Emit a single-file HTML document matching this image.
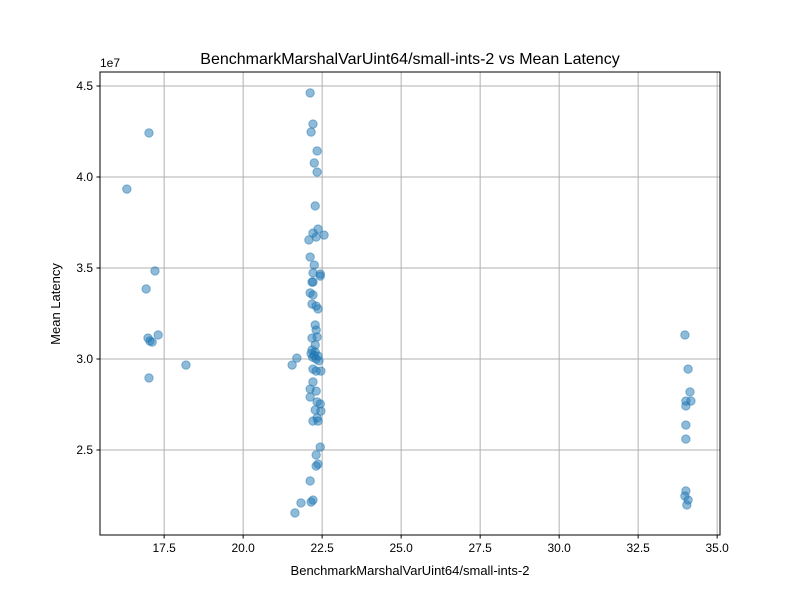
<!DOCTYPE html>
<html><head><meta charset="utf-8"><style>
body{margin:0;background:#fff;font-family:"Liberation Sans","DejaVu Sans",sans-serif}
</style></head><body>
<svg id="chart" width="800" height="600" xmlns="http://www.w3.org/2000/svg">
<rect width="800" height="600" fill="#fff"/>
<g id="grid"></g>
<g id="pts"></g>
<rect x="100" y="72" width="620" height="463" fill="none" stroke="#000" stroke-width="1"/>
<g id="ticks" font-size="12" fill="#000"></g>
<text x="410" y="64" text-anchor="middle" font-size="16">BenchmarkMarshalVarUint64/small-ints-2 vs Mean Latency</text>
<text x="410" y="575" text-anchor="middle" font-size="13">BenchmarkMarshalVarUint64/small-ints-2</text>
<text transform="translate(60,304) rotate(-90)" text-anchor="middle" font-size="13">Mean Latency</text>
<text x="100" y="67" font-size="12">1e7</text>
</svg>
<script>
const xs=[16.32,17.02,17.21,16.93,16.99,17.05,17.12,17.31,17.02,18.19,
22.12,22.21,22.15,22.34,22.25,22.34,22.28,22.37,22.21,22.31,22.56,22.08,
22.12,22.25,22.44,22.44,22.21,22.18,22.21,22.12,22.21,22.18,22.31,22.37,
22.28,22.31,22.18,22.34,22.28,22.18,22.28,22.37,21.70,21.55,22.25,22.15,22.31,22.4,22.2,
22.21,22.46,22.31,22.21,22.12,22.31,22.12,22.34,22.44,22.46,22.28,22.34,22.21,22.37,
22.44,22.31,22.37,22.31,22.12,22.21,22.15,21.83,21.64,
33.98,34.08,34.14,34.01,34.17,34.01,34.01,34.01,34.01,33.98,34.08,34.04];
const ys=[3.934,4.242,3.484,3.385,3.115,3.099,3.093,3.132,2.896,2.967,
4.462,4.291,4.247,4.143,4.077,4.027,3.841,3.714,3.692,3.670,3.681,3.654,
3.560,3.516,3.467,3.456,3.473,3.423,3.423,3.363,3.352,3.302,3.291,3.275,
3.187,3.159,3.115,3.121,3.077,3.049,3.038,3.016,3.005,2.967,3.02,3.03,3.0,2.99,3.01,
2.945,2.934,2.934,2.874,2.835,2.824,2.791,2.764,2.753,2.714,2.720,2.676,2.659,2.659,
2.516,2.473,2.423,2.412,2.330,2.225,2.214,2.209,2.154,
3.132,2.945,2.819,2.769,2.769,2.742,2.637,2.560,2.275,2.247,2.225,2.198];
const xTicks=[17.5,20.0,22.5,25.0,27.5,30.0,32.5,35.0];
const yTicks=[2.5,3.0,3.5,4.0,4.5];
const X0=15.47,X1=35.09,Y0=2.033,Y1=4.577;
const L=100,R=720,T=72,B=535;
const sx=v=>L+(v-X0)/(X1-X0)*(R-L);
const sy=v=>B-(v-Y0)/(Y1-Y0)*(B-T);
const NS="http://www.w3.org/2000/svg";
const g=document.getElementById('grid'),tk=document.getElementById('ticks'),pg=document.getElementById('pts');
function mk(tag,a,p){const e=document.createElementNS(NS,tag);for(const k in a)e.setAttribute(k,a[k]);p.appendChild(e);return e;}
xTicks.forEach(v=>{const x=sx(v);
const l=mk('line',{x1:x,x2:x,y1:T,y2:B,stroke:'#b0b0b0','stroke-width':1},g);


mk('line',{x1:x,x2:x,y1:B,y2:B+3.5,stroke:'#000'},tk);
const t=mk('text',{x:x,y:B+17,'text-anchor':'middle'},tk);t.textContent=v.toFixed(1);

});
yTicks.forEach(v=>{const y=sy(v);
const l=mk('line',{x1:L,x2:R,y1:y,y2:y,stroke:'#b0b0b0','stroke-width':1},g);


mk('line',{x1:L-3.5,x2:L,y1:y,y2:y,stroke:'#000'},tk);
const t=mk('text',{x:L-7,y:y+4,'text-anchor':'end'},tk);t.textContent=v.toFixed(1);

});
xs.forEach((v,i)=>{const c=mk('circle',{cx:sx(v),cy:sy(ys[i]),r:4.2,fill:'#1f77b4','fill-opacity':0.5,stroke:'#1f77b4','stroke-opacity':0.5},pg);

});
</script>
</body></html>
